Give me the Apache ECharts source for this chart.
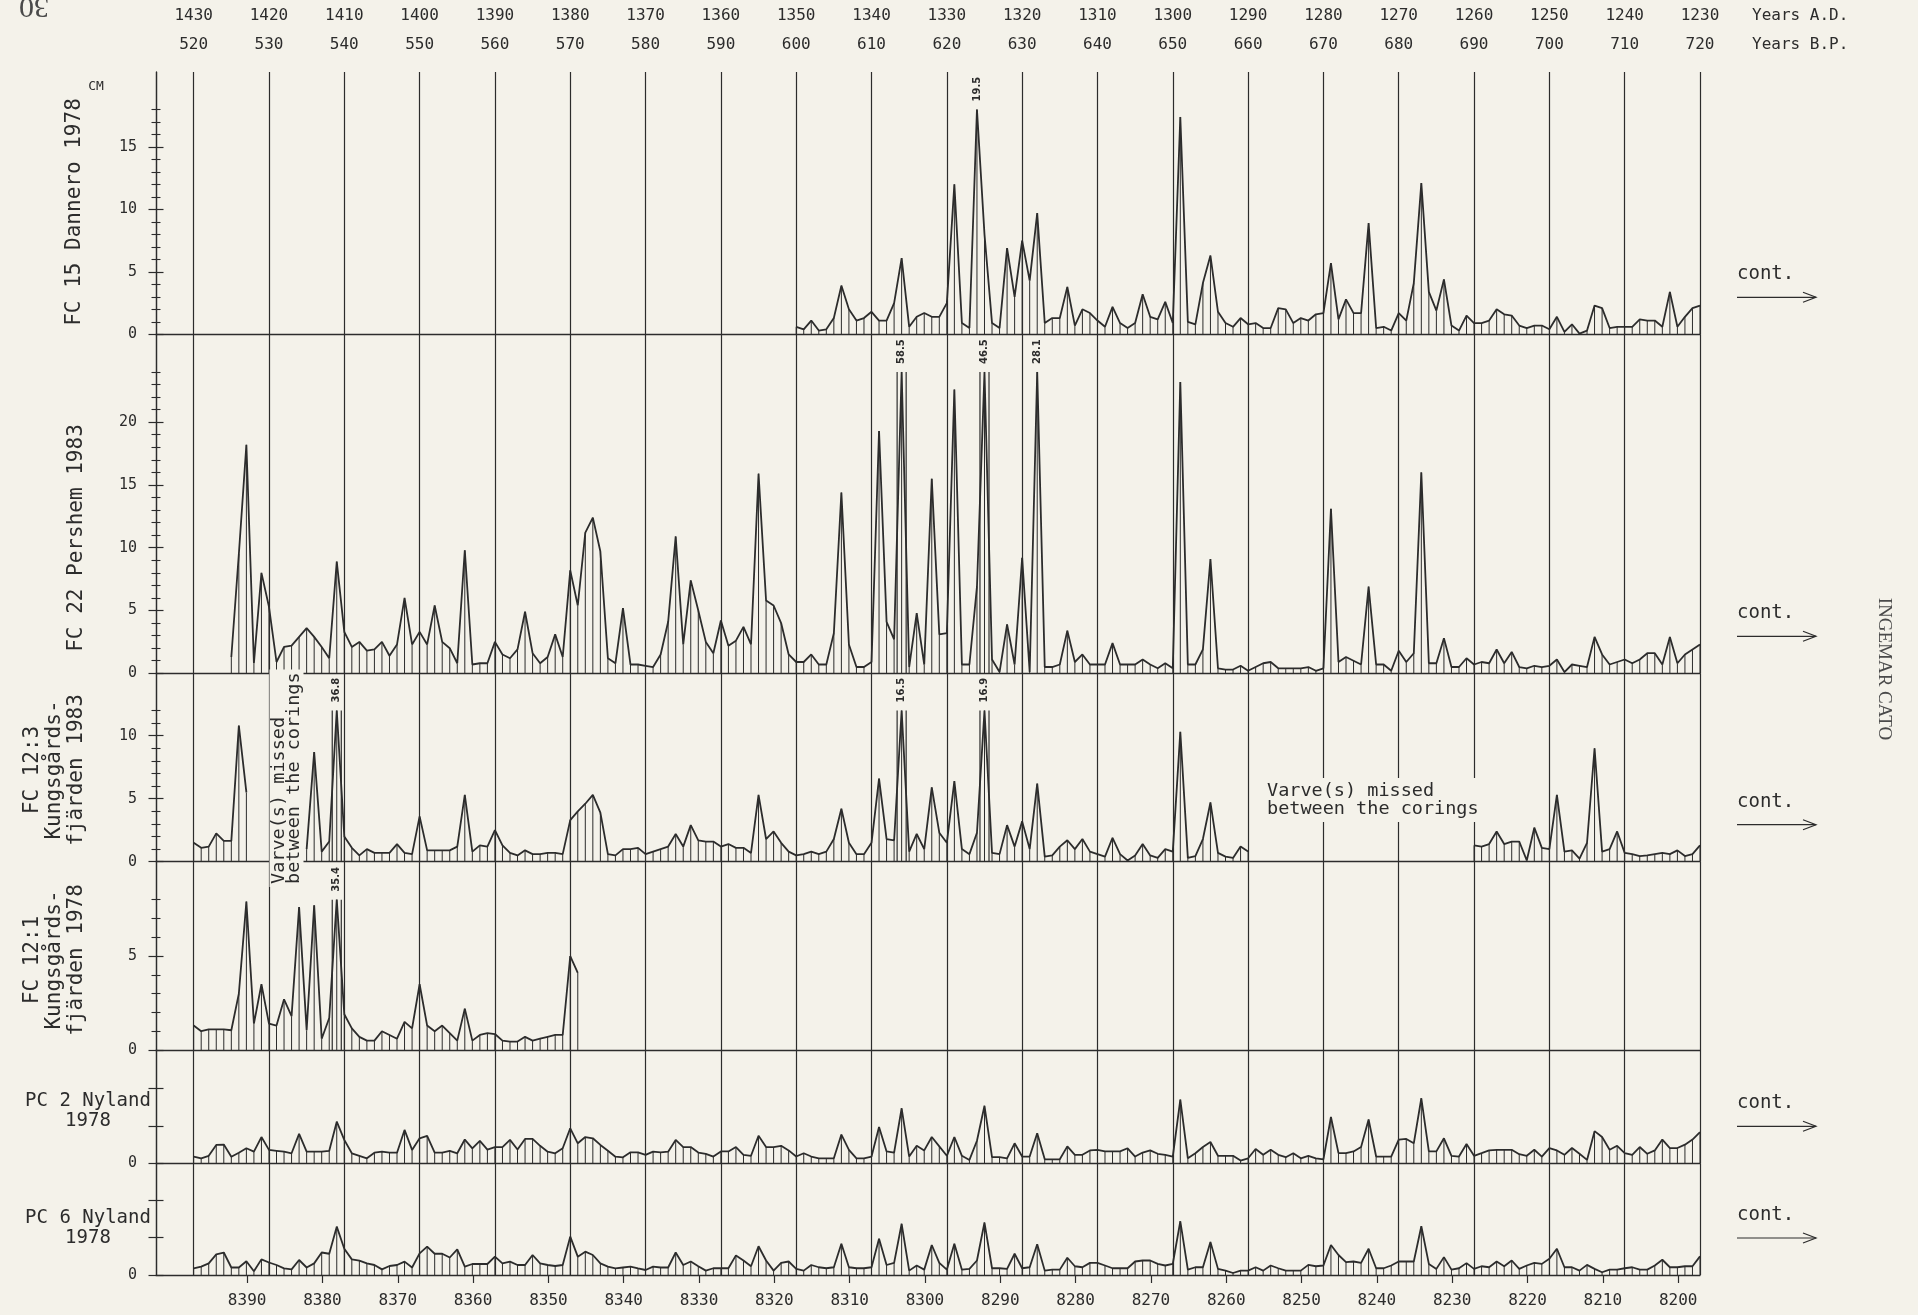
<!DOCTYPE html>
<html>
<head>
<meta charset="utf-8">
<title>Varve thickness diagram</title>
<script src="https://cdn.jsdelivr.net/npm/echarts@6.0.0/dist/echarts.min.js"></script>
<style>
html,body{margin:0;padding:0;background:#f4f2ea;}
#chart{width:1918px;height:1315px;}
</style>
</head>
<body>
<div id="chart"></div>
<script>
// ---------------- tick labels ----------------
const yearsAD = [1430,1420,1410,1400,1390,1380,1370,1360,1350,1340,1330,1320,1310,1300,1290,1280,1270,1260,1250,1240,1230];
const yearsBP = [520,530,540,550,560,570,580,590,600,610,620,630,640,650,660,670,680,690,700,710,720];
const varveYears = [8390,8380,8370,8360,8350,8340,8330,8320,8310,8300,8290,8280,8270,8260,8250,8240,8230,8220,8210,8200];
const danneroYLabels = [0,5,10,15];
const pershemYLabels = [0,5,10,15,20];
const kung83YLabels = [0,5,10];
const kung78YLabels = [0,5];
const nyland2YLabels = [0];
const nyland6YLabels = [0];

// ---------------- data (varve thickness, cm; one value per year A.D., oldest first) ----------------
const danneroStartAD = 1350;
const danneroValues = [
 0.6,0.4,1.1,0.3,0.4,1.3,3.9,2.0,1.1,1.3,
 1.8,1.1,1.1,2.5,6.1,0.6,1.4,1.7,1.4,1.4,
 2.5,12.0,0.9,0.5,19.5,8.0,0.9,0.5,6.9,3.0,
 7.5,4.3,9.7,0.9,1.3,1.3,3.8,0.7,2.0,1.7,
 1.1,0.6,2.2,0.9,0.5,0.9,3.2,1.4,1.2,2.6,
 0.9,17.4,1.0,0.8,4.1,6.3,1.8,0.9,0.6,1.3,
 0.8,0.9,0.5,0.5,2.1,2.0,0.9,1.3,1.1,1.6,
 1.7,5.7,1.2,2.8,1.7,1.7,8.9,0.5,0.6,0.3,
 1.7,1.1,4.1,12.1,3.4,1.9,4.4,0.7,0.3,1.5,
 0.9,0.9,1.1,2.0,1.6,1.5,0.7,0.5,0.7,0.7,
 0.4,1.4,0.2,0.8,0.05,0.3,2.3,2.1,0.5,0.6,
 0.6,0.6,1.2,1.1,1.1,0.6,3.4,0.6,1.4,2.1,
 2.3];

const pershemStartAD = 1425;
const pershemValues = [
 1.3,9.5,18.2,0.8,8.0,5.3,0.9,2.1,2.2,2.9,
 3.6,2.9,2.1,1.2,8.9,3.3,2.1,2.5,1.8,1.9,
 2.5,1.4,2.3,6.0,2.3,3.3,2.3,5.4,2.5,2.0,
 0.8,9.8,0.7,0.8,0.8,2.5,1.5,1.2,1.9,4.9,
 1.6,0.8,1.3,3.1,1.3,8.2,5.4,11.2,12.4,9.7,
 1.2,0.8,5.2,0.7,0.7,0.6,0.5,1.5,4.1,10.9,
 2.3,7.4,5.0,2.5,1.6,4.2,2.2,2.6,3.7,2.3,
 15.9,5.8,5.4,4.0,1.5,0.9,0.9,1.5,0.7,0.7,
 3.2,14.4,2.3,0.5,0.5,0.9,19.3,4.1,2.7,58.5,
 0.5,4.8,0.7,15.5,3.1,3.2,22.6,0.7,0.7,6.9,
 46.5,1.1,0.1,3.9,0.7,9.2,0.1,28.1,0.5,0.5,
 0.7,3.4,0.9,1.5,0.7,0.7,0.7,2.4,0.7,0.7,
 0.7,1.1,0.7,0.4,0.8,0.4,23.2,0.7,0.7,1.9,
 9.1,0.4,0.3,0.3,0.6,0.2,0.5,0.8,0.9,0.4,
 0.4,0.4,0.4,0.5,0.2,0.4,13.1,0.9,1.3,1.0,
 0.7,6.9,0.7,0.7,0.2,1.8,0.9,1.6,16.0,0.8,
 0.8,2.8,0.5,0.5,1.2,0.7,0.9,0.8,1.9,0.8,
 1.7,0.5,0.4,0.6,0.5,0.6,1.1,0.1,0.7,0.6,
 0.5,2.9,1.5,0.7,0.9,1.1,0.8,1.1,1.6,1.6,
 0.7,2.9,0.8,1.5,1.9,2.3];

const kung83StartAD = 1430;
const kung83Values = [
 1.5,1.1,1.2,2.25,1.65,1.65,10.8,5.5,
 null,null,null,null,null,null,null,
 1.0,8.7,0.8,1.6,36.8,2.0,1.1,0.5,1.0,0.7,
 0.7,0.7,1.4,0.7,0.6,3.6,0.9,0.9,0.9,0.9,
 1.2,5.3,0.8,1.3,1.2,2.5,1.3,0.7,0.5,0.9,
 0.6,0.6,0.7,0.7,0.6,3.3,4.0,4.6,5.3,3.9,
 0.6,0.5,1.0,1.0,1.1,0.6,0.8,1.0,1.2,2.2,
 1.2,2.9,1.7,1.6,1.6,1.2,1.4,1.1,1.1,0.7,
 5.3,1.8,2.4,1.5,0.8,0.5,0.6,0.8,0.6,0.8,
 1.8,4.2,1.5,0.6,0.6,1.5,6.6,1.8,1.7,16.5,
 0.8,2.2,1.0,5.9,2.3,1.5,6.4,1.0,0.6,2.3,
 16.9,0.7,0.6,2.9,1.2,3.2,1.0,6.2,0.4,0.5,
 1.2,1.7,1.0,1.8,0.8,0.6,0.4,1.9,0.6,0.1,
 0.5,1.4,0.5,0.3,1.0,0.8,10.3,0.3,0.45,1.8,
 4.7,0.7,0.4,0.3,1.2,0.8,
 null,null,null,null,null,null,null,null,null,null,
 null,null,null,null,null,null,null,null,null,null,
 null,null,null,null,null,null,null,null,null,
 1.3,1.2,1.4,2.4,1.4,1.6,1.6,0.1,2.7,1.1,
 1.0,5.3,0.8,0.9,0.25,1.5,9.0,0.8,1.0,2.4,
 0.7,0.6,0.45,0.5,0.6,0.7,0.6,0.9,0.45,0.6,
 1.3];

const kung78StartAD = 1430;
const kung78Values = [
 1.3,1.0,1.1,1.1,1.1,1.05,3.0,7.9,1.4,3.5,
 1.4,1.3,2.7,1.8,7.6,1.05,7.7,0.6,1.7,35.4,
 1.9,1.15,0.7,0.5,0.5,1.0,0.8,0.6,1.5,1.15,
 3.5,1.3,1.0,1.3,0.9,0.5,2.2,0.5,0.8,0.9,
 0.85,0.5,0.45,0.45,0.7,0.5,0.6,0.7,0.8,0.8,
 5.0,4.1];

const nyland2StartAD = 1430;
const nyland2Values = [
 0.53,0.4,0.6,1.47,1.5,0.53,0.85,1.2,0.93,2.1,
 1.07,1.0,0.93,0.8,2.35,0.93,0.93,0.93,1.0,3.33,
 1.87,0.8,0.6,0.4,0.85,0.93,0.85,0.85,2.67,1.07,
 2.0,2.2,0.85,0.85,1.0,0.8,1.9,1.2,1.8,1.1,
 1.3,1.3,1.87,1.1,1.95,1.95,1.4,0.93,0.8,1.2,
 2.8,1.6,2.1,2.0,1.47,1.0,0.53,0.48,0.88,0.88,
 0.67,0.93,0.88,0.93,1.87,1.3,1.3,0.86,0.76,0.54,
 0.95,0.95,1.3,0.68,0.6,2.2,1.3,1.3,1.4,1.03,
 0.54,0.8,0.54,0.4,0.4,0.4,2.3,1.08,0.4,0.4,
 0.54,2.9,0.95,0.86,4.4,0.54,1.4,1.03,2.1,1.35,
 0.6,2.1,0.6,0.27,1.8,4.6,0.5,0.5,0.4,1.6,
 0.54,0.54,2.4,0.32,0.32,0.32,1.35,0.68,0.68,1.03,
 1.08,0.95,0.95,0.95,1.2,0.54,0.86,1.03,0.76,0.68,
 0.54,5.1,0.4,0.8,1.3,1.7,0.6,0.6,0.6,0.22,
 0.4,1.14,0.68,1.08,0.68,0.49,0.81,0.4,0.6,0.4,
 0.32,3.7,0.81,0.81,0.95,1.3,3.5,0.54,0.54,0.54,
 1.9,1.95,1.6,5.2,0.95,0.95,2.0,0.6,0.54,1.54,
 0.6,0.81,1.03,1.08,1.08,1.08,0.73,0.6,1.08,0.54,
 1.22,1.03,0.68,1.22,0.76,0.27,2.57,2.1,1.08,1.4,
 0.81,0.68,1.3,0.76,1.03,1.9,1.22,1.22,1.49,1.9,
 2.5];

const nyland6StartAD = 1430;
const nyland6Values = [
 0.53,0.67,0.93,1.65,1.8,0.6,0.6,1.1,0.3,1.25,
 1.0,0.8,0.53,0.45,1.2,0.6,0.93,1.8,1.7,3.87,
 2.1,1.25,1.15,0.93,0.8,0.45,0.72,0.8,1.07,0.6,
 1.73,2.27,1.7,1.7,1.4,2.05,0.67,0.88,0.88,0.88,
 1.47,0.93,1.07,0.8,0.8,1.6,0.93,0.8,0.72,0.8,
 3.07,1.47,1.87,1.6,0.93,0.67,0.53,0.6,0.67,0.53,
 0.4,0.67,0.6,0.6,1.8,0.8,1.08,0.7,0.35,0.54,
 0.54,0.54,1.57,1.16,0.7,2.3,1.16,0.35,0.97,1.08,
 0.49,0.35,0.8,0.62,0.54,0.62,2.5,0.62,0.54,0.54,
 0.62,2.9,0.8,0.97,4.1,0.35,0.76,0.43,2.4,0.97,
 0.43,2.5,0.43,0.49,1.16,4.2,0.54,0.54,0.49,1.7,
 0.54,0.62,2.46,0.35,0.43,0.43,1.38,0.7,0.62,0.97,
 0.97,0.76,0.54,0.54,0.54,1.08,1.16,1.16,0.89,0.76,
 0.89,4.3,0.43,0.62,0.62,2.65,0.49,0.35,0.16,0.35,
 0.35,0.62,0.35,0.76,0.54,0.35,0.35,0.35,0.81,0.7,
 0.76,2.4,1.6,1.03,1.08,0.97,2.1,0.54,0.54,0.76,
 1.08,1.08,1.08,3.9,0.89,0.49,1.43,0.43,0.54,0.95,
 0.49,0.7,0.62,1.08,0.7,1.16,0.49,0.76,0.97,0.89,
 1.3,2.1,0.62,0.62,0.35,0.81,0.49,0.22,0.43,0.43,
 0.54,0.62,0.43,0.43,0.76,1.22,0.62,0.62,0.7,0.7,
 1.49];

// ---------------- layout & style ----------------
const BG = '#f4f2ea';
const INK = '#2c2c2c';
const MONO = "'DejaVu Sans Mono', 'Liberation Mono', monospace";
const SERIF = "'Liberation Serif', 'DejaVu Serif', serif";
const AX_MIN = 1230, AX_MAX = 1435;
const VARVE_OFFSET = 6967.1;

const panels = [
  {start: danneroStartAD, values: danneroValues, labels: danneroYLabels, top: 72,    zero: 334.3, max: 21.0,  cap: 18, majors: [0,5,10,15],    minorTop: 18},
  {start: pershemStartAD, values: pershemValues, labels: pershemYLabels, top: 334.3, zero: 673.3, max: 27.0,  cap: 24, majors: [0,5,10,15,20], minorTop: 24},
  {start: kung83StartAD,  values: kung83Values,  labels: kung83YLabels,  top: 673.3, zero: 861.7, max: 14.95, cap: 12, majors: [0,5,10],       minorTop: 12},
  {start: kung78StartAD,  values: kung78Values,  labels: kung78YLabels,  top: 861.7, zero: 1050,  max: 10.02, cap: 8,  majors: [0,5],          minorTop: 8},
  {start: nyland2StartAD, values: nyland2Values, labels: nyland2YLabels, top: 1050,  zero: 1163.3,max: 9.06,  cap: 99, majors: [0,3,6],        minorTop: 0},
  {start: nyland6StartAD, values: nyland6Values, labels: nyland6YLabels, top: 1163.3,zero: 1275,  max: 8.94,  cap: 99, majors: [0,3,6],        minorTop: 0}
];

const grids = [], xAxes = [], yAxes = [], series = [];

panels.forEach((p, i) => {
  grids.push({left: 156, right: 218, top: p.top, height: p.zero - p.top, containLabel: false, outerBoundsMode: 'none'});
  xAxes.push({
    type: 'value', gridIndex: i, min: AX_MIN, max: AX_MAX, inverse: true, interval: 10,
    axisLine: {show: true, onZero: false, lineStyle: {color: INK, width: 1.3}},
    axisTick: {show: false}, axisLabel: {show: false},
    splitLine: {show: true, lineStyle: {color: INK, width: 1.2}}
  });
  const base = {type: 'value', gridIndex: i, min: 0, max: p.max, position: 'left', splitLine: {show: false}};
  yAxes.push(Object.assign({}, base, {
    axisLine: {show: true, onZero: false, lineStyle: {color: INK, width: 1.3}},
    axisTick: {show: false},
    axisLabel: {show: true, customValues: p.labels, margin: 19, color: INK, fontFamily: MONO, fontSize: 15,
      formatter: v => String(v)}
  }));
  const minors = [];
  for (let k = 1; k <= p.minorTop; k++) if (p.majors.indexOf(k) < 0) minors.push(k);
  yAxes.push(Object.assign({}, base, {
    offset: -4.5, axisLine: {show: false},
    axisTick: {show: minors.length > 0, customValues: minors.length ? minors : [0], length: 9, lineStyle: {color: INK, width: 1.1}},
    axisLabel: {show: false}
  }));
  yAxes.push(Object.assign({}, base, {
    offset: -7.5, axisLine: {show: false},
    axisTick: {show: true, customValues: p.majors, length: 15, lineStyle: {color: INK, width: 1.2}},
    axisLabel: {show: false}
  }));

  const pts = p.values.map((v, k) => [p.start - k, v == null ? null : Math.min(v, p.cap), v]);
  series.push({
    type: 'line', xAxisIndex: i, yAxisIndex: 3 * i,
    data: pts.map(d => [d[0], d[1]]),
    symbol: 'none', showSymbol: false, connectNulls: false,
    lineStyle: {color: INK, width: 1.8}, z: 4, silent: true
  });
  const cap = p.cap;
  series.push({
    type: 'custom', xAxisIndex: i, yAxisIndex: 3 * i,
    data: pts.filter(d => d[1] != null),
    encode: {x: 0, y: 1},
    z: 3, silent: true,
    renderItem: function (params, api) {
      const x = api.value(0), v = api.value(1), raw = api.value(2);
      const a = api.coord([x, 0]), b = api.coord([x, v]);
      const children = [{type: 'line', shape: {x1: a[0], y1: a[1], x2: b[0], y2: b[1]}, style: {stroke: INK, lineWidth: 1}}];
      if (raw > cap) {
        if (raw > cap * 1.3) {
          [-0.6, 0.6].forEach(d => {
            const a2 = api.coord([x + d, 0]), b2 = api.coord([x + d, v]);
            children.push({type: 'line', shape: {x1: a2[0], y1: a2[1], x2: b2[0], y2: b2[1]}, style: {stroke: INK, lineWidth: 1.2}});
          });
        }
        children.push({type: 'text', x: b[0], y: b[1] - 8, rotation: Math.PI / 2,
          style: {text: String(raw), font: "bold 10px 'DejaVu Sans'", fill: INK, align: 'left', verticalAlign: 'middle'}});
      }
      return {type: 'group', children: children};
    }
  });
});

// top axes (Years A.D. and Years B.P.)
xAxes.push({
  type: 'value', gridIndex: 0, position: 'top', min: AX_MIN, max: AX_MAX, inverse: true, interval: 10,
  axisLine: {show: false, onZero: false}, axisTick: {show: false}, splitLine: {show: false},
  axisLabel: {show: true, margin: 48, color: INK, fontFamily: MONO, fontSize: 16,
    formatter: v => (yearsAD.indexOf(v) >= 0 ? String(v) : '')}
});
xAxes.push({
  type: 'value', gridIndex: 0, position: 'top', min: AX_MIN, max: AX_MAX, inverse: true, interval: 10,
  axisLine: {show: false, onZero: false}, axisTick: {show: false}, splitLine: {show: false},
  axisLabel: {show: true, margin: 19, color: INK, fontFamily: MONO, fontSize: 16,
    formatter: v => { const k = yearsAD.indexOf(v); return k >= 0 ? String(yearsBP[k]) : ''; }}
});
// bottom varve-year axis
xAxes.push({
  type: 'value', gridIndex: 5, position: 'bottom', min: AX_MIN + VARVE_OFFSET, max: AX_MAX + VARVE_OFFSET, inverse: true,
  axisLine: {show: false, onZero: false}, splitLine: {show: false},
  axisTick: {show: true, customValues: varveYears, length: 8, lineStyle: {color: INK, width: 1.2}},
  axisLabel: {show: true, customValues: varveYears, margin: 18, color: INK, fontFamily: MONO, fontSize: 16,
    formatter: v => String(Math.round(v))}
});

// ---------------- annotations ----------------
const g = [];
function txt(x, y, text, font, opts) {
  g.push(Object.assign({type: 'text', x: x, y: y, z: 50,
    style: Object.assign({text: text, font: font, fill: INK, align: 'center', verticalAlign: 'middle'}, (opts && opts.style) || {})},
    (opts && opts.el) || {}));
}
const R90 = {el: {rotation: Math.PI / 2}};
txt(75, 212, 'FC 15 Dannero 1978', `21px ${MONO}`, R90);
txt(96, 87, 'CM', `13px ${MONO}`);
txt(77, 538, 'FC 22 Pershem 1983', `21px ${MONO}`, R90);
txt(55, 770, 'FC 12:3\nKungsgårds-\nfjärden 1983', `21px ${MONO}`, {el: {rotation: Math.PI / 2}, style: {lineHeight: 22}});
txt(55, 960, 'FC 12:1\nKungsgårds-\nfjärden 1978', `21px ${MONO}`, {el: {rotation: Math.PI / 2}, style: {lineHeight: 22}});
txt(88, 1111, 'PC 2 Nyland\n1978', `19px ${MONO}`, {style: {lineHeight: 20}});
txt(88, 1228, 'PC 6 Nyland\n1978', `19px ${MONO}`, {style: {lineHeight: 20}});
txt(1752, 16, 'Years A.D.', `16px ${MONO}`, {style: {align: 'left'}});
txt(1752, 45, 'Years B.P.', `16px ${MONO}`, {style: {align: 'left'}});
txt(1884, 669, 'INGEMAR CATO', `19px ${SERIF}`, {el: {rotation: -Math.PI / 2}, style: {fill: '#4a4a4a'}});
txt(34, 6, '30', `30px ${SERIF}`, {el: {rotation: Math.PI}, style: {fill: '#4a4a4a'}});
// gap notes
txt(286.5, 887, 'Varve(s) missed\nbetween the corings', `18.5px ${MONO}`,
  {el: {rotation: Math.PI / 2}, style: {align: 'left', lineHeight: 15, backgroundColor: BG, padding: [2, 3]}});
txt(1264, 800, 'Varve(s) missed\nbetween the corings', `18.5px ${MONO}`,
  {style: {align: 'left', lineHeight: 18, backgroundColor: BG, padding: [4, 3]}});
// "cont." arrows
[334.3, 673.3, 861.7, 1163.3, 1275].forEach(z => {
  txt(1737, z - 60, 'cont.', `19px ${MONO}`, {style: {align: 'left'}});
  g.push({type: 'line', z: 50, shape: {x1: 1737, y1: z - 37, x2: 1816, y2: z - 37}, style: {stroke: INK, lineWidth: 1.2}});
  g.push({type: 'polyline', z: 50, shape: {points: [[1803, z - 42], [1816, z - 37], [1803, z - 32]]}, style: {stroke: INK, lineWidth: 1.2, fill: null}});
});

const chart = echarts.init(document.getElementById('chart'), null, {renderer: 'canvas'});
chart.setOption({
  backgroundColor: BG,
  animation: false,
  grid: grids,
  xAxis: xAxes,
  yAxis: yAxes,
  series: series,
  graphic: g
});
</script>
</body>
</html>
